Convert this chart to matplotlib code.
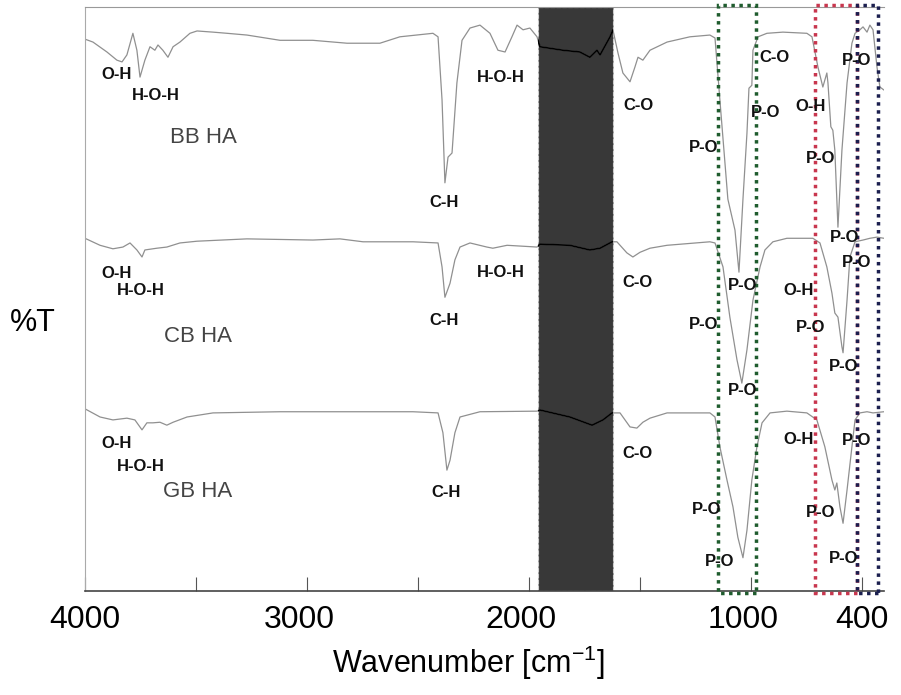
import matplotlib
matplotlib.use("Agg")
import matplotlib.pyplot as plt
from matplotlib.patches import Rectangle
import matplotlib.transforms as mtransforms

plt.rcParams['font.family'] = ['Liberation Sans', 'DejaVu Sans']
plt.rcParams['mathtext.fontset'] = 'custom'
plt.rcParams['mathtext.rm'] = 'Liberation Sans'

# spectra (wavenumber, %T with vertical offset)
bb_wn = [4000, 3964, 3901, 3856, 3833, 3811, 3784, 3766, 3752, 3730, 3707, 3685, 3671, 3649,
         3626, 3603, 3572, 3527, 3495, 3423, 3360, 3270, 3121, 2973, 2819, 2671, 2581, 2432,
         2409, 2391, 2378, 2364, 2346, 2324, 2301, 2265, 2220, 2175, 2139, 2107, 2076, 2053,
         2026, 1995, 1963, 1950, 1846, 1770, 1725, 1693, 1679, 1634, 1621, 1598, 1576, 1544,
         1522, 1508, 1486, 1454, 1377, 1274, 1184, 1161, 1139, 1103, 1071, 1053, 1035, 1017,
         1008, 995, 990, 967, 927, 855, 747, 724, 697, 675, 657, 652, 639, 630, 621, 607,
         589, 566, 544, 530, 508, 494, 476, 463, 449, 431, 418, 400]
bb_t = [94.5, 94.0, 92.3, 90.9, 90.6, 91.8, 95.5, 92.6, 88.0, 90.9, 93.2, 92.6, 93.5, 92.6,
        91.4, 93.2, 94.0, 95.5, 95.9, 95.7, 95.5, 95.2, 94.3, 94.3, 93.8, 93.8, 94.9, 95.5,
        94.9, 84.1, 69.9, 74.3, 75.0, 87.0, 94.3, 96.4, 96.9, 95.5, 92.6, 92.3, 94.9, 96.9,
        96.1, 96.4, 94.9, 93.2, 92.6, 92.3, 91.4, 92.6, 91.8, 94.9, 96.1, 92.1, 88.7, 87.2,
        89.7, 91.4, 90.9, 92.6, 94.0, 94.9, 95.2, 94.7, 84.1, 67.1, 61.8, 54.6, 67.1, 78.4,
        86.1, 86.6, 92.6, 94.9, 95.5, 95.7, 95.5, 94.9, 89.7, 86.3, 88.7, 87.0, 79.5, 78.9,
        75.5, 62.3, 75.5, 87.0, 93.8, 95.5, 96.1, 96.6, 95.7, 96.9, 96.1, 89.7, 86.3, 85.8]

cb_wn = [4000, 3932, 3874, 3829, 3797, 3766, 3743, 3730, 3676, 3631, 3572, 3495, 3270, 2973,
         2851, 2747, 2522, 2409, 2391, 2378, 2355, 2333, 2310, 2265, 2189, 2162, 2098, 1963,
         1950, 1815, 1725, 1679, 1625, 1603, 1558, 1531, 1499, 1454, 1377, 1184, 1161, 1125,
         1094, 1062, 1040, 1017, 990, 958, 936, 900, 837, 720, 688, 657, 634, 621, 607, 589,
         584, 566, 553, 530, 494, 463, 431, 400]
cb_t = [60.4, 59.2, 58.6, 58.9, 59.6, 58.4, 57.2, 58.4, 58.7, 58.9, 59.6, 59.9, 60.3, 60.1,
        60.3, 59.8, 59.8, 59.6, 55.5, 50.3, 52.7, 56.7, 58.9, 59.6, 58.9, 58.7, 59.2, 58.9,
        59.4, 59.2, 58.4, 58.7, 59.8, 59.8, 57.9, 57.2, 58.0, 58.7, 59.2, 59.8, 59.6, 55.5,
        46.9, 39.6, 35.6, 41.3, 49.8, 55.5, 58.4, 59.8, 60.4, 60.4, 59.6, 55.5, 51.0, 47.6,
        46.9, 41.8, 40.8, 49.8, 57.2, 59.8, 60.1, 60.4, 60.6, 60.4]

gb_wn = [4000, 3932, 3874, 3811, 3775, 3743, 3721, 3694, 3662, 3631, 3603, 3540, 3423, 3121,
         2522, 2409, 2387, 2369, 2355, 2333, 2310, 2220, 1963, 1950, 1815, 1715, 1666, 1625,
         1589, 1544, 1513, 1486, 1454, 1377, 1184, 1161, 1139, 1107, 1080, 1058, 1035, 1017,
         995, 972, 949, 913, 837, 747, 702, 666, 634, 621, 612, 598, 584, 566, 544, 530,
         508, 476, 449, 400]
gb_t = [31.2, 29.8, 29.3, 29.6, 29.3, 27.6, 28.8, 28.8, 28.9, 28.4, 28.9, 29.8, 30.5, 30.7,
        30.7, 30.5, 27.1, 20.7, 22.4, 27.1, 29.8, 30.7, 30.8, 31.0, 29.8, 28.4, 29.3, 30.5,
        30.5, 28.1, 27.9, 28.9, 29.6, 30.5, 30.5, 29.8, 24.7, 19.0, 14.4, 9.2, 5.7, 10.4,
        19.0, 24.7, 28.8, 30.5, 30.8, 30.5, 29.3, 24.7, 19.0, 17.3, 18.5, 14.4, 11.6, 17.3,
        24.7, 29.3, 30.5, 30.7, 30.5, 30.7]

sample_names = ["BB HA", "CB HA", "GB HA"]
sample_pos = [(3468, 77.7), (3491, 43.5), (3491, 17.1)]

# band assignments: (label, wavenumber, %T)
bands = [
    ("O-H", 3856, 88.4), ("H-O-H", 3680, 84.8), ("C-H", 2382, 66.6), ("H-O-H", 2126, 88.0),
    ("C-O", 1504, 83.2), ("P-O", 1211, 76.0), ("C-O", 891, 91.3), ("P-O", 931, 82.0),
    ("O-H", 729, 83.0), ("P-O", 684, 74.1), ("P-O", 521, 90.9), ("P-O", 575, 60.6),
    ("P-O", 1035, 52.4),
    ("O-H", 3856, 54.3), ("H-O-H", 3748, 51.4), ("C-H", 2382, 46.4), ("H-O-H", 2126, 54.6),
    ("C-O", 1508, 52.9), ("P-O", 1211, 45.7), ("O-H", 783, 51.4), ("P-O", 729, 45.2),
    ("P-O", 521, 56.2), ("P-O", 580, 38.4), ("P-O", 1035, 34.4),
    ("O-H", 3856, 25.3), ("H-O-H", 3748, 21.4), ("C-H", 2373, 16.8), ("C-O", 1508, 23.6),
    ("P-O", 1197, 14.0), ("P-O", 1139, 5.1), ("O-H", 783, 25.9), ("P-O", 521, 25.7),
    ("P-O", 684, 13.4), ("P-O", 580, 5.5),
]

masked_region = (1621, 1959)
boxes = [(977, 1148, '#1f5c2e'), (521, 711, '#c8364e'), (427, 521, '#1b1f4f')]

xticks = [4000, 3500, 3000, 2500, 2000, 1500, 1000, 500]
xticklabels = ['4000', '', '3000', '', '2000', '', '1000', '400']

fig = plt.figure(figsize=(9.01, 6.95), dpi=100)
ax = fig.add_axes([0.0943, 0.1496, 0.8867, 0.8403])

span = ax.axvspan(masked_region[0], masked_region[1], facecolor='#383838',
                  edgecolor='#d0d0d0', linestyle='--', linewidth=0.8, zorder=1)

for wn, t in [(bb_wn, bb_t), (cb_wn, cb_t), (gb_wn, gb_t)]:
    ax.plot(wn, t, color='#909090', linewidth=0.9, zorder=2)
    inner = ax.plot(wn, t, color='black', linewidth=1.2, zorder=3)[0]
    inner.set_clip_path(span)

trans = mtransforms.blended_transform_factory(ax.transData, ax.transAxes)
for lo, hi, col in boxes:
    ax.add_patch(Rectangle((lo, -0.004), hi - lo, 1.008, transform=trans, fill=False,
                           edgecolor=col, linestyle=(0, (1, 1.3)), linewidth=2.5,
                           clip_on=False, zorder=4))

for name, (x, y) in zip(sample_names, sample_pos):
    ax.text(x, y, name, fontsize=16, color='#444444', ha='center', va='center')

for lab, x, y in bands:
    ax.text(x, y, lab, fontsize=12, fontweight='bold', color='#111111', ha='center',
            va='center', zorder=5)

ax.set_xlim(4000, 400)
ax.set_ylim(0, 100)
ax.set_yticks([])
ax.set_xticks(xticks)
ax.set_xticklabels(xticklabels, fontsize=23)
ax.tick_params(axis='x', direction='in', length=10, width=0.8, color='#555555', pad=10)

# labels in the original sit a little left of their ticks
shift = mtransforms.ScaledTranslation(-8 / 100, 0, fig.dpi_scale_trans)
for lbl in ax.get_xticklabels()[1:-1]:
    lbl.set_transform(lbl.get_transform() + shift)

ax.spines['right'].set_visible(False)
ax.spines['left'].set_color('#aaaaaa')
ax.spines['top'].set_color('#999999')
ax.spines['bottom'].set_color('#444444')
ax.spines['bottom'].set_linewidth(1.2)

ax.set_xlabel('Wavenumber [cm$^{\\mathregular{-1}}$]', fontsize=22, labelpad=6)
ax.xaxis.label.set_x(0.48)
fig.text(0.036, 0.535, '%T', fontsize=22, ha='center', va='center')

fig.savefig('out.png', dpi=100)
